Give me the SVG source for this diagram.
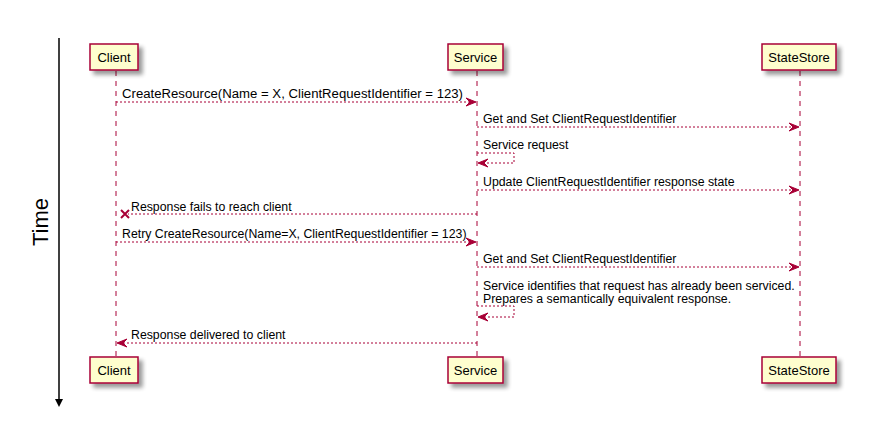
<svg xmlns="http://www.w3.org/2000/svg" width="884" height="439" viewBox="0 0 884 439">
<style>
.box{fill:#FEFECE;stroke:#A80036;stroke-width:1.5}
.pl{font-family:"Liberation Sans",Arial,sans-serif;font-size:13px;fill:#000;text-anchor:middle}
.life{stroke:#A80036;stroke-width:1;stroke-dasharray:5,5;fill:none}
.msg{stroke:#A80036;stroke-width:1;stroke-dasharray:2,2;fill:none}
.ml{font-family:"Liberation Sans",Arial,sans-serif;font-size:12.3px;fill:#000}
.ah{fill:#A80036;stroke:#A80036;stroke-width:1}
</style>
<defs>
<filter id="sh" x="-20%" y="-20%" width="150%" height="160%">
<feGaussianBlur in="SourceAlpha" stdDeviation="2"/>
<feOffset dx="4" dy="4" result="b"/>
<feComponentTransfer><feFuncA type="linear" slope="0.4"/></feComponentTransfer>
<feMerge><feMergeNode/><feMergeNode in="SourceGraphic"/></feMerge>
</filter>
</defs>
<rect width="884" height="439" fill="#fff"/>
<g id="time-axis">
<line x1="59" y1="38" x2="59" y2="400" stroke="#000" stroke-width="1.5"/>
<polygon points="55,399 63,399 59,407" fill="#000"/>
<text x="0" y="0" transform="translate(48,222) rotate(-90)" font-family="Liberation Sans,Arial,sans-serif" font-size="22" text-anchor="middle">Time</text>
</g>
<g id="lifelines">
<line class="life" x1="116" y1="71" x2="116" y2="357"/>
<line class="life" x1="477" y1="71" x2="477" y2="357"/>
<line class="life" x1="800" y1="71" x2="800" y2="357"/>
</g>
<g id="client-top"><rect class="box" x="90" y="44" width="48" height="26" filter="url(#sh)"/><text class="pl" x="114" y="62">Client</text></g>
<g id="service-top"><rect class="box" x="448" y="44" width="55" height="26" filter="url(#sh)"/><text class="pl" x="475.5" y="62">Service</text></g>
<g id="statestore-top"><rect class="box" x="762" y="44" width="74" height="26" filter="url(#sh)"/><text class="pl" x="799" y="62">StateStore</text></g>
<g id="client-bottom"><rect class="box" x="90" y="357" width="48" height="26" filter="url(#sh)"/><text class="pl" x="114" y="375">Client</text></g>
<g id="service-bottom"><rect class="box" x="448" y="357" width="55" height="26" filter="url(#sh)"/><text class="pl" x="475.5" y="375">Service</text></g>
<g id="statestore-bottom"><rect class="box" x="762" y="357" width="74" height="26" filter="url(#sh)"/><text class="pl" x="799" y="375">StateStore</text></g>
<g id="connectors">
<line class="msg" x1="116" y1="102" x2="474" y2="102"/>
<polygon class="ah" points="476,102 466,98 470,102 466,106"/>
<text class="ml" x="122" y="98" textLength="341" lengthAdjust="spacingAndGlyphs">CreateResource(Name = X, ClientRequestIdentifier = 123)</text>

<line class="msg" x1="477" y1="127" x2="797" y2="127"/>
<polygon class="ah" points="799,127 789,123 793,127 789,131"/>
<text class="ml" x="483" y="123">Get and Set ClientRequestIdentifier</text>

<polyline class="msg" points="477,153 514,153 514,163 480,163"/>
<polygon class="ah" points="478,163 488,159 484,163 488,167"/>
<text class="ml" x="483" y="149">Service request</text>

<line class="msg" x1="477" y1="190" x2="797" y2="190"/>
<polygon class="ah" points="799,190 789,186 793,190 789,194"/>
<text class="ml" x="483" y="186">Update ClientRequestIdentifier response state</text>

<line class="msg" x1="477" y1="214" x2="128" y2="214"/>
<path d="M121,210 L129,218 M129,210 L121,218" stroke="#A80036" stroke-width="2" fill="none"/>
<text class="ml" x="131" y="211">Response fails to reach client</text>

<line class="msg" x1="116" y1="242" x2="474" y2="242"/>
<polygon class="ah" points="476,242 466,238 470,242 466,246"/>
<text class="ml" x="122" y="238">Retry CreateResource(Name=X, ClientRequestIdentifier = 123)</text>

<line class="msg" x1="477" y1="267" x2="797" y2="267"/>
<polygon class="ah" points="799,267 789,263 793,267 789,271"/>
<text class="ml" x="483" y="263">Get and Set ClientRequestIdentifier</text>

<polyline class="msg" points="477,306 514,306 514,317 480,317"/>
<polygon class="ah" points="478,317 488,313 484,317 488,321"/>
<text class="ml" x="483" y="290">Service identifies that request has already been serviced.</text>
<text class="ml" x="483" y="303">Prepares a semantically equivalent response.</text>

<line class="msg" x1="477" y1="343" x2="119" y2="343"/>
<polygon class="ah" points="117,343 127,339 123,343 127,347"/>
<text class="ml" x="131" y="339">Response delivered to client</text>
</g>
</svg>
